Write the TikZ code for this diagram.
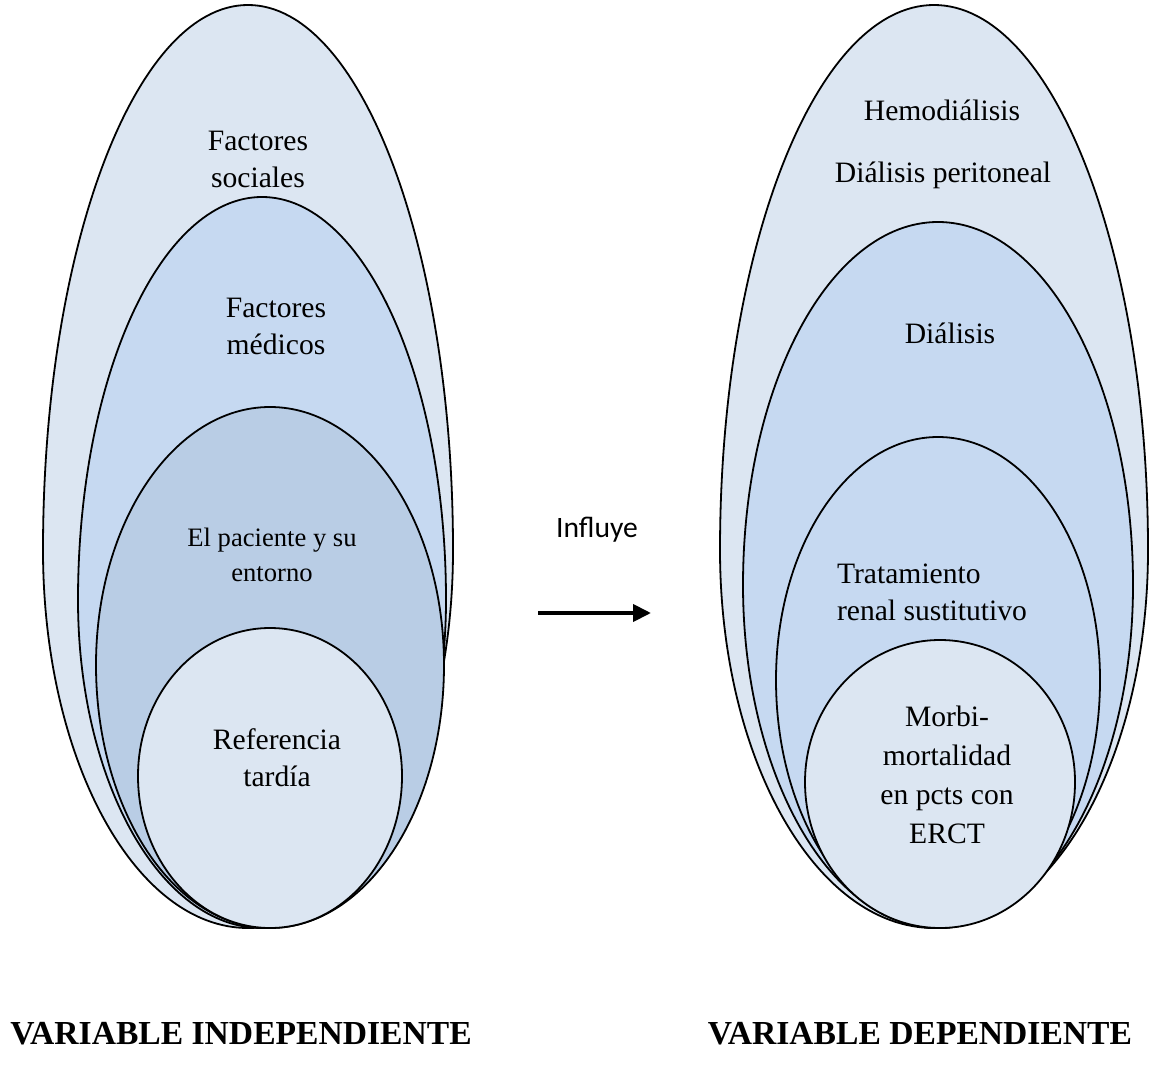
\documentclass[tikz,border=0pt]{standalone}
\usepackage{fontspec}
\setmainfont{Liberation Serif}
\newfontfamily\calibrifont{Carlito}
\usepackage{tikz}
\usetikzlibrary{arrows.meta,positioning}
\definecolor{setlight}{HTML}{DCE6F2}
\definecolor{setmid}{HTML}{C6D9F1}
\definecolor{setdark}{HTML}{B9CDE5}
% egg outline: centre x, top, widest y, bottom, half width, upper and lower half height
\newcommand{\eggpath}[7]{(#1,#2) arc[start angle=270, end angle=180, x radius=#5, y radius=#6]
  arc[start angle=180, end angle=90, x radius=#5, y radius=#7]
  arc[start angle=90, end angle=0, x radius=#5, y radius=#7]
  arc[start angle=0, end angle=-90, x radius=#5, y radius=#6] -- cycle}
\tikzset{
  setline/.style={draw=black, line width=0.9pt},
  settext/.style={font=\fontsize{14.8}{18.5}\selectfont, align=center, inner sep=1pt},
  smalltext/.style={font=\fontsize{13.3}{17.5}\selectfont, align=center, inner sep=1pt},
  varlabel/.style={font=\fontsize{16.8}{20}\selectfont\bfseries, inner sep=0pt},
  flowarrow/.style={-{Triangle[length=9pt, width=8.5pt]}, line width=2pt, draw=black}
}
\begin{document}
\begin{tikzpicture}[x=0.5pt,y=-0.5pt]
    \useasboundingbox (0,0) rectangle (1160,1069);

    % independent variable
    \path[setline, fill=setlight] \eggpath{248}{5}{550}{928}{205}{545}{378};
    \path[setline, fill=setmid] \eggpath{262}{197}{600}{928}{184}{403}{328};
    \path[setline, fill=setdark] \eggpath{270}{407}{665}{928}{174}{258}{263};
    \path[setline, fill=setlight] \eggpath{270}{628}{776}{928}{132}{148}{152};

    \node[settext] (social) at (258,159) {Factores\\sociales};
    \node[settext] (medico) at (276,326) {Factores\\médicos};
    \node[smalltext] (entorno) at (272,555) {El paciente y su\\entorno};
    \node[settext] (tardia) at (277,758) {Referencia\\tardía};

    % dependent variable
    \path[setline, fill=setlight] \eggpath{934}{5}{550}{928}{214}{545}{378};
    \path[setline, fill=setmid] \eggpath{938}{222}{585}{928}{195}{363}{343};
    \path[setline, fill=setmid] \eggpath{938}{437}{680}{928}{162}{243}{248};
    \path[setline, fill=setlight] \eggpath{940}{640}{782}{928}{135}{142}{146};

    \node[settext] (hemo) at (942,110) {Hemodiálisis};
    \node[settext] (peri) at (943,175) {Diálisis peritoneal};
    \node[settext] (dialisis) at (950,333) {Diálisis};
    \node[settext, align=left] (trs) at (932,592) {Tratamiento\\renal sustitutivo};
    \node[settext, font=\fontsize{14.8}{19.5}\selectfont] (morbi) at (947,775) {Morbi-\\mortalidad\\en pcts con\\ERCT};

    % influence
    \node[font=\calibrifont\fontsize{14.8}{17}\selectfont] (influye) at (597,530) {Influye};
    \coordinate (arrowstart) at (538,613);
    \coordinate (arrowend) at (651,613);
    \draw[flowarrow] (arrowstart) -- (arrowend);

    \node[varlabel] (indep) at (241,1034) {VARIABLE INDEPENDIENTE};
    \node[varlabel] (dep) at (920,1034) {VARIABLE DEPENDIENTE};
\end{tikzpicture}
\end{document}
